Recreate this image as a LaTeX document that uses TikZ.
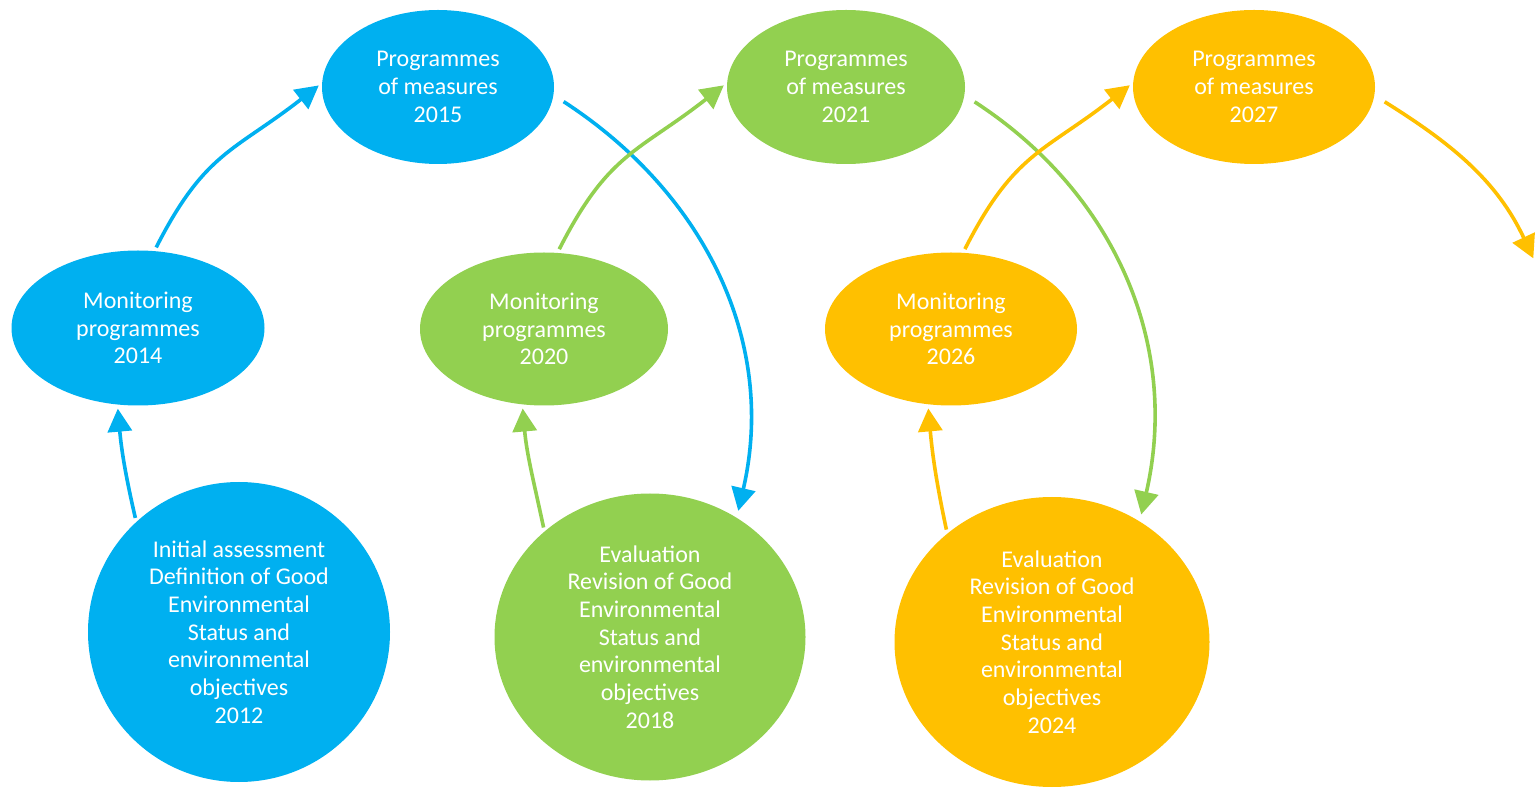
\documentclass[tikz,border=0pt]{standalone}
\usepackage{fontspec}
\setmainfont{Carlito}
\usetikzlibrary{shapes.geometric,arrows.meta}
\definecolor{cblue}{HTML}{00B0F0}
\definecolor{cgreen}{HTML}{92D050}
\definecolor{corange}{HTML}{FFC000}
\begin{document}
\begin{tikzpicture}[x=1pt,y=1pt,
  bub/.style={ellipse, inner sep=0pt, text=white, align=center,
    font=\fontsize{24}{27.7}\selectfont},
  conn/.style={line width=3.6pt, shorten <=4pt, shorten >=4pt,
    -{Triangle[length=23pt,width=24pt]}},
  arcdown/.style={conn, shorten <=12pt, shorten >=7pt}]
\useasboundingbox (0,0) rectangle (1540,788);
% top row
\node[bub, fill=cblue,   minimum width=232, minimum height=154] (p2015) at (438,701) {Programmes\\of measures\\2015};
\node[bub, fill=cgreen,  minimum width=238, minimum height=154] (p2021) at (846,701) {Programmes\\of measures\\2021};
\node[bub, fill=corange, minimum width=242, minimum height=154] (p2027) at (1254,701) {Programmes\\of measures\\2027};
% middle row
\node[bub, fill=cblue,   minimum width=253, minimum height=155] (m2014) at (138,460) {Monitoring\\programmes\\2014};
\node[bub, fill=cgreen,  minimum width=248, minimum height=153] (m2020) at (544,459) {Monitoring\\programmes\\2020};
\node[bub, fill=corange, minimum width=252, minimum height=153] (m2026) at (951,459) {Monitoring\\programmes\\2026};
% bottom row
\node[bub, fill=cblue,   minimum width=302, minimum height=300] (e2012) at (239,156) {Initial assessment\\Definition of Good\\Environmental\\Status and\\environmental\\objectives\\2012};
\node[bub, fill=cgreen,  minimum width=311, minimum height=287] (e2018) at (650,151) {Evaluation\\Revision of Good\\Environmental\\Status and\\environmental\\objectives\\2018};
\node[bub, fill=corange, minimum width=315, minimum height=290] (e2024) at (1052,146) {Evaluation\\Revision of Good\\Environmental\\Status and\\environmental\\objectives\\2024};
\coordinate (end) at (1535,526);
% blue
\draw[conn, cblue] (e2012.133) to[out=103,in=-85] (m2014.255);
\draw[conn, cblue] (m2014.78) to[out=63,in=218,looseness=1.2] (p2015.178);
\draw[arcdown, cblue] (p2015.-4) to[out=-33,in=77] (e2018.54);
% green
\draw[conn, cgreen] (e2018.135) to[out=102,in=-85] (m2020.254);
\draw[conn, cgreen] (m2020.80) to[out=63,in=218,looseness=1.2] (p2021.178);
\draw[arcdown, cgreen] (p2021.-4) to[out=-33,in=77] (e2024.54);
% orange
\draw[conn, corange] (e2024.134) to[out=102,in=-85] (m2026.253);
\draw[conn, corange] (m2026.81) to[out=63,in=218,looseness=1.2] (p2027.178);
\draw[conn, corange, shorten <=12pt] (p2027.-4) to[out=-32,in=115] (end);
\end{tikzpicture}
\end{document}
